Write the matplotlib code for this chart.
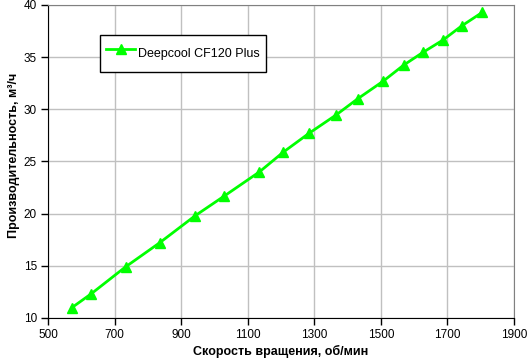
import matplotlib
matplotlib.use('Agg')
import matplotlib.pyplot as plt

# скорость вращения (об/мин) и производительность (м3/ч)
rpm = [572, 629, 733, 835, 942, 1030, 1135, 1207, 1284, 1365, 1430, 1507, 1569, 1626, 1687, 1743, 1805]
flow = [11.0, 12.3, 14.9, 17.2, 19.8, 21.7, 24.0, 25.9, 27.7, 29.45, 31.0, 32.7, 34.25, 35.45, 36.65, 38.0, 39.3]
xticks = [500, 700, 900, 1100, 1300, 1500, 1700, 1900]
yticks = [10, 15, 20, 25, 30, 35, 40]

plt.rcParams['font.family'] = ['Liberation Sans', 'DejaVu Sans']

fig = plt.figure(figsize=(5.27, 3.63), dpi=100)
ax = fig.add_axes([48/527, 1-318/363, (514-48)/527, (318-5)/363])

ax.plot(rpm, flow, color='#00ff00', linewidth=2, marker='^', markersize=7,
        label='Deepcool CF120 Plus')

ax.set_xlim(500, 1900)
ax.set_ylim(10, 40)
ax.set_xticks(xticks)
ax.set_yticks(yticks)
ax.tick_params(labelsize=8.5, length=5, width=1, direction='out', pad=3)
ax.grid(True, color='#c0c0c0', linewidth=1)
ax.set_axisbelow(True)

ax.spines['left'].set_color('black')
ax.spines['bottom'].set_color('black')
ax.spines['top'].set_color('#808080')
ax.spines['right'].set_color('#808080')

ax.set_xlabel('Скорость вращения, об/мин', fontsize=9, fontweight='bold', labelpad=3)
ax.set_ylabel('Производительность, м³/ч', fontsize=9, fontweight='bold')
ax.yaxis.set_label_coords(-28/466, 0.52)

leg = ax.legend(loc='upper left', bbox_to_anchor=((100-48)/466, 1-(35-5)/313),
                fontsize=9, fancybox=False, framealpha=1, edgecolor='black',
                borderpad=0.5, borderaxespad=0, handlelength=2.3, handleheight=2.7,
                handletextpad=0.25)
leg.get_frame().set_linewidth(1)

fig.savefig('out.png', dpi=100)
